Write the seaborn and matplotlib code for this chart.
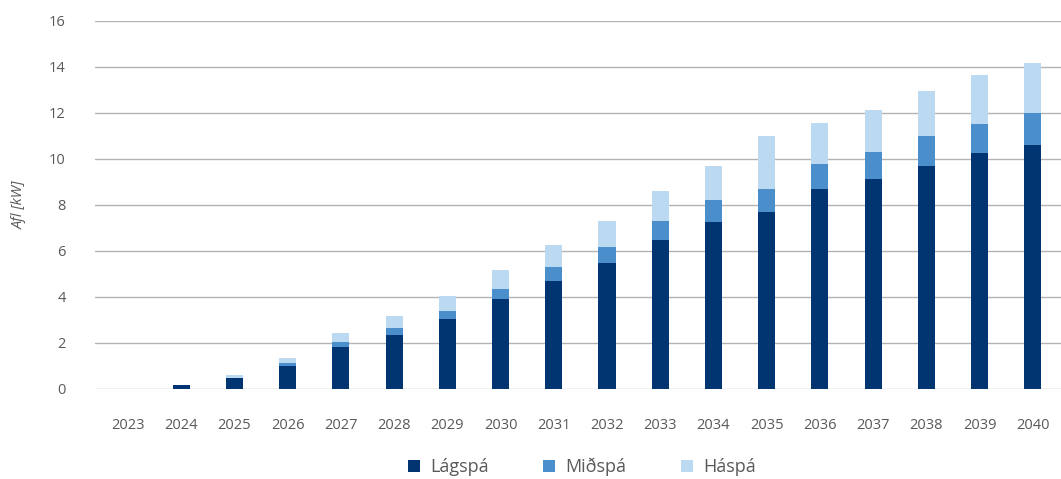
import pandas as pd
import matplotlib
matplotlib.use("Agg")
import matplotlib.pyplot as plt
import seaborn as sns
from matplotlib.patches import Patch

years = [str(y) for y in range(2023, 2041)]
# cumulative bar heights (bars overlap, drawn back to front)
lagspa = [0.0, 0.17, 0.48, 1.0, 1.83, 2.35, 3.04, 3.91, 4.70, 5.48, 6.48, 7.26, 7.70, 8.70, 9.13, 9.70, 10.26, 10.61]
midspa = [0.0, 0.17, 0.48, 1.13, 2.04, 2.65, 3.39, 4.35, 5.30, 6.17, 7.30, 8.22, 8.70, 9.78, 10.30, 11.00, 11.52, 12.00]
haspa = [0.0, 0.17, 0.61, 1.35, 2.43, 3.17, 4.04, 5.17, 6.26, 7.30, 8.61, 9.70, 11.00, 11.57, 12.13, 12.96, 13.65, 14.17]

series_names = ["Lágspá", "Miðspá", "Háspá"]
colors = {"Lágspá": "#003571", "Miðspá": "#4a8fcb", "Háspá": "#bbd9f1"}
text_color = "#595959"
grid_color = "#b3b3b3"

df = pd.DataFrame({"year": years, "Lágspá": lagspa, "Miðspá": midspa, "Háspá": haspa})

sns.set_theme(style="white")
plt.rcParams["font.family"] = ["Open Sans", "DejaVu Sans"]

fig = plt.figure(figsize=(10.61, 4.79), dpi=100)
ax = fig.add_axes([95 / 1061, 1 - 389 / 479, (1061 - 95) / 1061, (389 - 21) / 479])

# draw highest first so the lower scenarios sit in front
for name in ["Háspá", "Miðspá", "Lágspá"]:
    sns.barplot(data=df, x="year", y=name, color=colors[name], width=0.32,
                saturation=1, linewidth=0, edgecolor="none", ax=ax, zorder=3)

ax.set_ylim(0, 16)
ax.set_xlim(-0.62, 17.53)
ax.set_yticks(range(0, 17, 2))
ax.yaxis.grid(True, color=grid_color, linewidth=1.0, zorder=0)
ax.set_axisbelow(True)
for s in ax.spines.values():
    s.set_visible(False)

ax.tick_params(axis="both", length=0, labelsize=10.5, colors=text_color)
ax.tick_params(axis="y", pad=21)
ax.tick_params(axis="x", pad=21)
ax.set_xlabel("")
ax.set_ylabel("Afl [kW]", fontsize=10.5, style="italic", color=text_color)
ax.yaxis.set_label_coords(-68 / 966, 0.5)

handles = [Patch(facecolor=colors[n], edgecolor="none", label=n) for n in series_names]
fig.legend(handles=handles, loc="center", bbox_to_anchor=(582 / 1061, 1 - 467 / 479),
           ncol=3, frameon=False, fontsize=13, labelcolor=text_color,
           handlelength=0.65, handleheight=0.65, handletextpad=0.6, columnspacing=3.0)

fig.savefig("out.png", dpi=100)
